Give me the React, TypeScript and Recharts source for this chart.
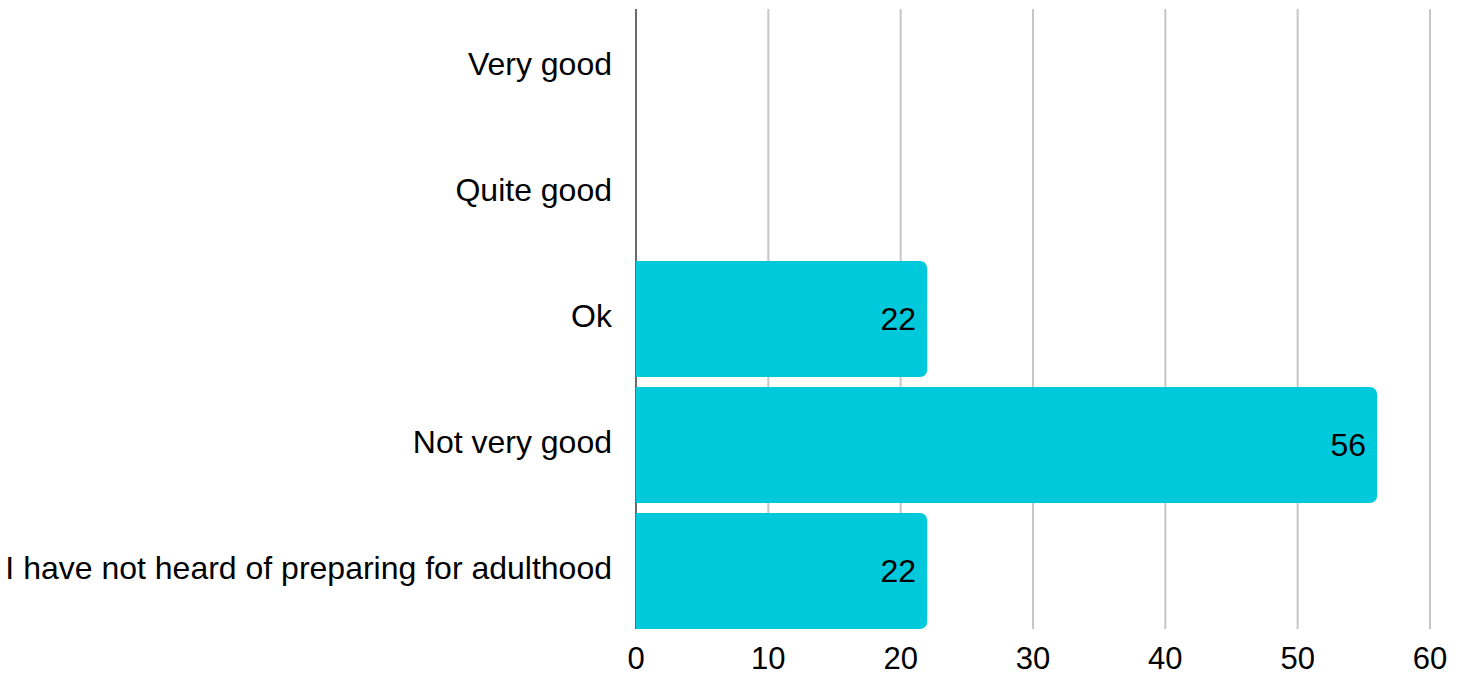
import { BarChart, Bar, XAxis, YAxis, CartesianGrid, LabelList } from "recharts"

const categories = [
  "Very good",
  "Quite good",
  "Ok",
  "Not very good",
  "I have not heard of preparing for adulthood",
]
const counts = [0, 0, 22, 56, 22]
const xTicks = [0, 10, 20, 30, 40, 50, 60]

const data = categories.map((name, i) => ({ name, value: counts[i] }))

const font = "'Liberation Sans', Arial, sans-serif"

export default function App() {
  return (
    <div style={{ position: "absolute", left: 0, top: 0, fontFamily: font }}>
      <BarChart
        width={1470}
        height={676}
        data={data}
        layout="vertical"
        margin={{ top: 4, right: 40, bottom: 0, left: 0 }}
        barCategoryGap={5}
      >
        {/* grid lines in the source stop a few px short of the plot edges */}
        <CartesianGrid horizontal={false} stroke="#c6c6c6" strokeWidth={2} y={9} height={620} />
        <XAxis
          type="number"
          domain={[0, 60]}
          ticks={xTicks}
          height={42}
          axisLine={false}
          tickLine={false}
          tickSize={0}
          tickMargin={13}
          tick={{ fontSize: 31, fill: "#000", fontFamily: font }}
        />
        <YAxis
          type="category"
          dataKey="name"
          width={636}
          tickLine={false}
          tickSize={0}
          tickMargin={24}
          axisLine={false}
          tick={{ fontSize: 32, fill: "#000", fontFamily: font, dy: -3 }}
        />
        <CartesianGrid
          horizontal={false}
          verticalPoints={[636]}
          stroke="#6b6b6b"
          strokeWidth={2}
          y={9}
          height={620}
        />
        <Bar dataKey="value" fill="#00c9db" radius={[0, 7, 7, 0]} isAnimationActive={false}>
          <LabelList
            dataKey="value"
            position="insideRight"
            offset={11}
            formatter={(v: unknown) => (Number(v) > 0 ? String(v) : "")}
            style={{ fontSize: 32, fill: "#000", fontFamily: font }}
          />
        </Bar>
      </BarChart>
    </div>
  )
}
